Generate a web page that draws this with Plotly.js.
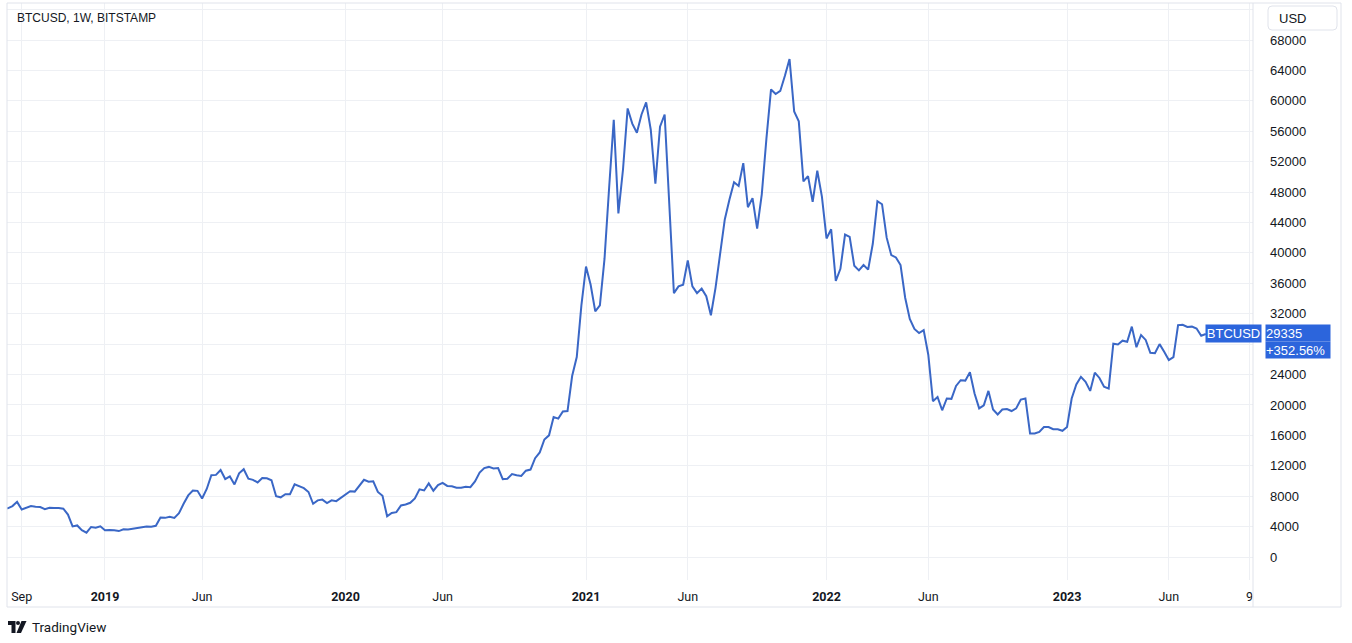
<!DOCTYPE html>
<html>
<head>
<meta charset="utf-8">
<script src="https://cdn.plot.ly/plotly-3.0.1.min.js"></script>
<style>
  html, body { margin: 0; padding: 0; background: #fff; }
  #chart { width: 1352px; height: 643px; }
</style>
</head>
<body>
<div id="chart"></div>
<script>
// BTCUSD weekly closes (Bitstamp), one value per Monday bar starting firstWeek
const symbol = 'BTCUSD';
const firstWeek = '2018-08-06';

const close2018 = [6482, 6400, 6700, 7250, 6250, 6500, 6700, 6620, 6580, 6300, 6480, 6450,
  6450, 6350, 5580, 4020, 4150, 3520, 3200, 3950, 3850, 4040];
const close2019 = [3510, 3540, 3530, 3410, 3650, 3620, 3750, 3810, 3920, 4000, 3980, 4100,
  5180, 5150, 5300, 5150, 5750, 7000, 8100, 8750, 8700, 7700, 8950, 10750, 10800, 11450,
  10250, 10600, 9550, 11000, 11550, 10300, 10150, 9800, 10400, 10350, 10100, 8000, 7850,
  8250, 8250, 9550, 9300, 9050, 8550, 7000, 7450, 7550, 7100, 7450, 7350, 7750];
const close2020 = [8180, 8650, 8600, 9350, 10150, 9900, 9950, 8550, 8050, 5350, 5800, 5900,
  6780, 6900, 7130, 7700, 8900, 8750, 9680, 8720, 9450, 9750, 9350, 9300, 9100, 9100, 9250,
  9180, 9950, 11100, 11700, 11850, 11650, 11700, 10250, 10300, 10900, 10750, 10650, 11350,
  11500, 13000, 13750, 15450, 16000, 18400, 18200, 19150, 19200, 23800, 26300, 33100];
const close2021 = [38200, 35800, 32300, 33100, 39200, 48600, 57500, 45200, 51000, 59000,
  57000, 55800, 58200, 59800, 56200, 49100, 56600, 58200, 46500, 34700, 35600, 35800, 39000,
  35600, 34700, 35300, 34300, 31800, 35400, 39900, 44400, 47000, 49300, 48800, 51800, 46000,
  47200, 43200, 47700, 55000, 61500, 60900, 61300, 63300, 65500, 58600, 57300, 49400, 50100,
  46700, 50800, 47400];
const close2022 = [41900, 43100, 36300, 37900, 42400, 42100, 38300, 37700, 38400, 37800,
  41200, 46800, 46400, 42000, 39700, 39400, 38400, 34100, 31300, 30000, 29450, 29850, 26600,
  20500, 21050, 19300, 20850, 20800, 22500, 23250, 23200, 24300, 21500, 19550, 19950, 21850,
  19400, 18750, 19400, 19450, 19200, 19550, 20700, 20850, 16250, 16250, 16450, 17100, 17100,
  16800, 16800, 16600];
const close2023 = [17100, 20850, 22700, 23700, 23050, 21850, 24250, 23550, 22400, 22150,
  28050, 27950, 28450, 28300, 30300, 27600, 29200, 28550, 26850, 26800, 28000, 27000, 25900,
  26300, 30500, 30550, 30250, 30300, 30050, 29100, 29335];

// time axis labels
const xTickDates = ['2018-09-03', '2019-01-07', '2019-06-03', '2020-01-06', '2020-06-01',
  '2021-01-04', '2021-06-07', '2022-01-03', '2022-06-06', '2023-01-02', '2023-06-05', '2023-10-05'];
const xTickLabels = ['Sep', '<b>2019</b>', 'Jun', '<b>2020</b>', 'Jun', '<b>2021</b>', 'Jun',
  '<b>2022</b>', 'Jun', '<b>2023</b>', 'Jun', '9'];

// price axis labels (28000 sits under the last-value tag, 72000 only carries a grid line)
const priceTicks = [0, 4000, 8000, 12000, 16000, 20000, 24000, 28000, 32000, 36000, 40000,
  44000, 48000, 52000, 56000, 60000, 64000, 68000, 72000];
const priceLabels = ['0', '4000', '8000', '12000', '16000', '20000', '24000', '', '32000',
  '36000', '40000', '44000', '48000', '52000', '56000', '60000', '64000', '68000', ''];

const closes = [].concat(close2018, close2019, close2020, close2021, close2022, close2023);
const WEEK = 7 * 24 * 3600 * 1000;
const t0 = Date.parse(firstWeek + 'T00:00:00Z');
const weeks = closes.map((_, i) => new Date(t0 + i * WEEK).toISOString().slice(0, 10));
const toDate = ms => new Date(ms).toISOString().replace('T', ' ').slice(0, 19);

const lastClose = closes[closes.length - 1];
const pctChange = (lastClose / closes[0] - 1) * 100;

// page geometry
const W = 1352, H = 643;
const M = { l: 7, r: 99, t: 3, b: 63 };
const pw = W - M.l - M.r, ph = H - M.t - M.b;
const px = x => (x - M.l) / pw;
const py = y => (H - M.b - y) / ph;

const BLUE = '#3a67c6';
const TAG = '#2c65dc';
const FRAME = '#e0e3eb';
const GRID = '#eef0f4';
const INK = '#131722';
const SANS = 'Liberation Sans, Arial, sans-serif';

function roundRect(x0, y0, x1, y1, r) {
  const X = v => px(v), Y = v => py(v);
  return 'M' + X(x0 + r) + ',' + Y(y0) +
    ' L' + X(x1 - r) + ',' + Y(y0) + ' Q' + X(x1) + ',' + Y(y0) + ' ' + X(x1) + ',' + Y(y0 + r) +
    ' L' + X(x1) + ',' + Y(y1 - r) + ' Q' + X(x1) + ',' + Y(y1) + ' ' + X(x1 - r) + ',' + Y(y1) +
    ' L' + X(x0 + r) + ',' + Y(y1) + ' Q' + X(x0) + ',' + Y(y1) + ' ' + X(x0) + ',' + Y(y1 - r) +
    ' L' + X(x0) + ',' + Y(y0 + r) + ' Q' + X(x0) + ',' + Y(y0) + ' ' + X(x0 + r) + ',' + Y(y0) + ' Z';
}
function poly(pts) {
  return pts.map((p, k) => (k ? 'L' : 'M') + px(p[0]) + ',' + py(p[1])).join(' ') + ' Z';
}

const trace = {
  x: weeks,
  y: closes,
  type: 'scatter',
  mode: 'lines',
  line: { color: BLUE, width: 2 },
  hoverinfo: 'skip'
};

const layout = {
  width: W,
  height: H,
  margin: M,
  paper_bgcolor: '#ffffff',
  plot_bgcolor: '#ffffff',
  showlegend: false,
  xaxis: {
    type: 'date',
    range: [toDate(t0 + 0.82 * WEEK), toDate(t0 + 270.2 * WEEK)],
    tickmode: 'array',
    tickvals: xTickDates,
    ticktext: xTickLabels,
    showgrid: true,
    gridcolor: GRID,
    gridwidth: 1,
    zeroline: false,
    showline: false,
    ticks: '',
    ticklabelstandoff: 7,
    tickfont: { family: 'Roboto, sans-serif', size: 12.5, color: INK },
    fixedrange: true
  },
  yaxis: {
    side: 'right',
    range: [-3025, 72866],
    tickmode: 'array',
    tickvals: priceTicks,
    ticktext: priceLabels,
    showgrid: true,
    gridcolor: GRID,
    gridwidth: 1,
    zeroline: false,
    showline: false,
    ticks: '',
    ticklabelstandoff: 16,
    tickfont: { family: SANS, size: 13, color: INK },
    fixedrange: true
  },
  shapes: [
    // outer frame and price scale separator
    { type: 'rect', xref: 'paper', yref: 'paper', x0: px(7), x1: px(1341), y0: py(607), y1: py(3),
      line: { color: FRAME, width: 1 }, fillcolor: 'rgba(0,0,0,0)' },
    { type: 'line', xref: 'paper', yref: 'paper', x0: px(1253), x1: px(1253), y0: py(607), y1: py(3),
      line: { color: FRAME, width: 1 } },
    // currency button
    { type: 'path', xref: 'paper', yref: 'paper', path: roundRect(1268, 6, 1337, 30, 4),
      line: { color: FRAME, width: 1 }, fillcolor: '#ffffff' },
    // TradingView logo
    { type: 'path', xref: 'paper', yref: 'paper', line: { width: 0 }, fillcolor: INK,
      path: poly([[8, 621], [15.5, 621], [15.5, 633], [11.5, 633], [11.5, 625], [8, 625]]) },
    { type: 'circle', xref: 'paper', yref: 'paper', line: { width: 0 }, fillcolor: INK,
      x0: px(16), x1: px(20), y0: py(625), y1: py(621) },
    { type: 'path', xref: 'paper', yref: 'paper', line: { width: 0 }, fillcolor: INK,
      path: poly([[21.5, 621], [26.5, 621], [21, 633], [16.5, 633]]) }
  ],
  annotations: [
    { text: symbol + ', 1W, BITSTAMP', xref: 'paper', yref: 'paper', x: px(15), y: py(17.5),
      xanchor: 'left', yanchor: 'middle', showarrow: false,
      font: { family: SANS, size: 12, color: INK } },
    { text: 'USD', xref: 'paper', yref: 'paper', x: px(1277), y: py(18),
      xanchor: 'left', yanchor: 'middle', showarrow: false,
      font: { family: SANS, size: 13, color: INK } },
    { text: 'TradingView', xref: 'paper', yref: 'paper', x: px(30), y: py(627),
      xanchor: 'left', yanchor: 'middle', showarrow: false,
      font: { family: 'Roboto, sans-serif', size: 13.5, color: INK } },
    // last value tags
    { text: symbol, xref: 'paper', yref: 'y', x: px(1205), y: lastClose,
      xanchor: 'left', yanchor: 'middle', showarrow: false, width: 55, height: 17,
      borderpad: 0, bgcolor: TAG, align: 'center',
      font: { family: SANS, size: 13, color: '#ffffff' } },
    { text: String(lastClose), xref: 'paper', yref: 'y', x: px(1265), y: lastClose, yshift: 1,
      xanchor: 'left', yanchor: 'middle', showarrow: false, width: 64, height: 16,
      borderpad: 0, bgcolor: TAG, align: 'left',
      font: { family: SANS, size: 13, color: '#ffffff' } },
    { text: '+' + pctChange.toFixed(2) + '%', xref: 'paper', yref: 'y', x: px(1265), y: lastClose,
      yshift: -7, xanchor: 'left', yanchor: 'top', showarrow: false, width: 64, height: 16,
      borderpad: 0, bgcolor: TAG, align: 'left',
      font: { family: SANS, size: 13, color: '#ffffff' } }
  ]
};

Plotly.newPlot('chart', [trace], layout, { staticPlot: true, displayModeBar: false });
</script>
</body>
</html>
